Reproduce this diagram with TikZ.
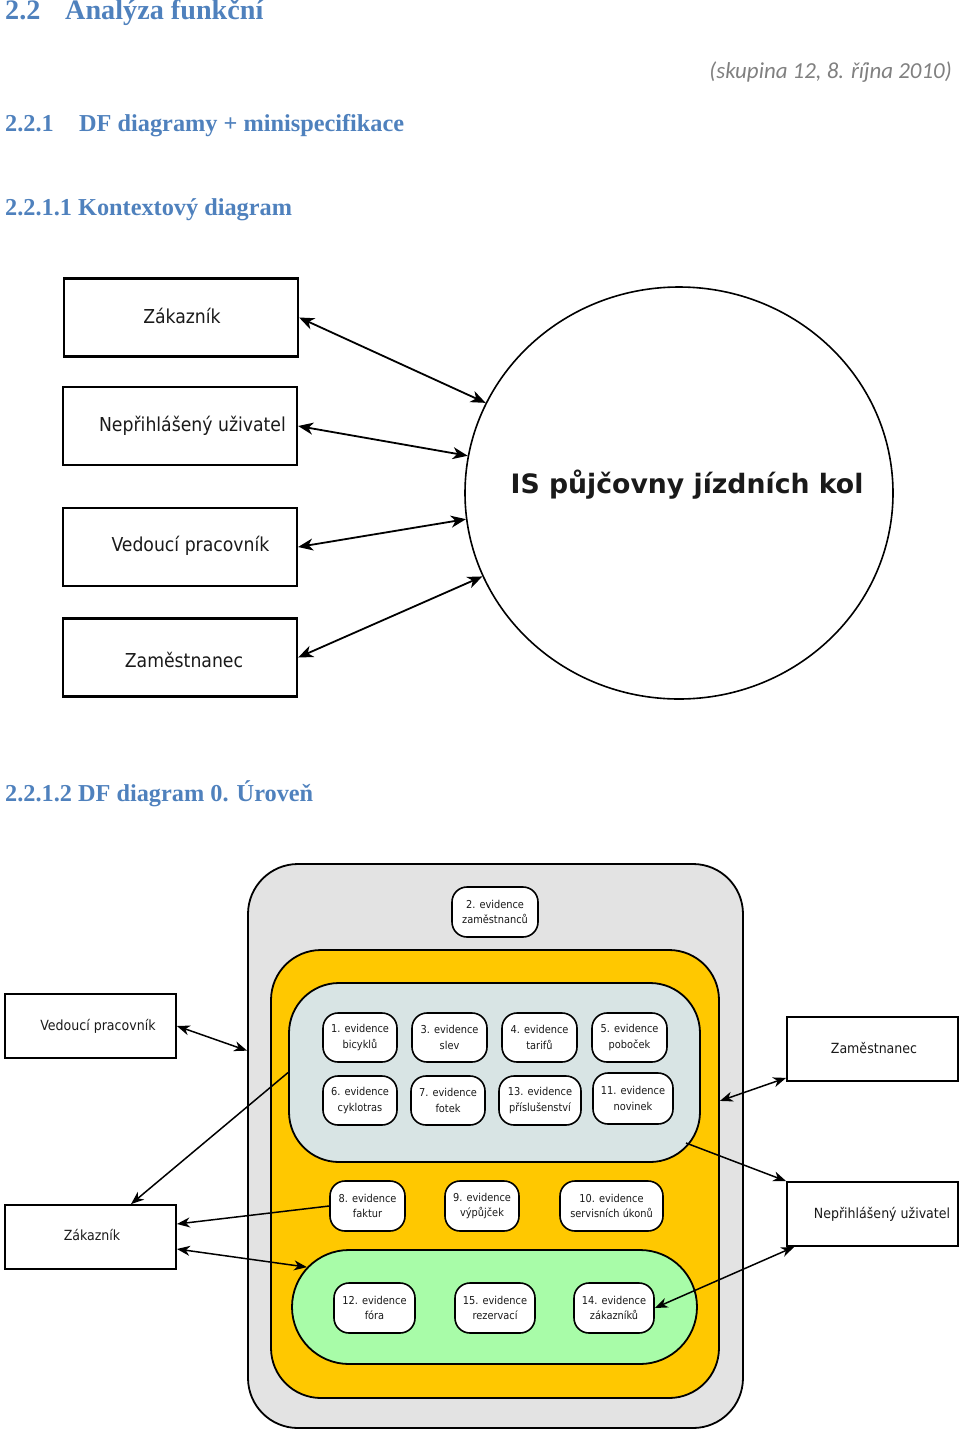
\documentclass[tikz,border=0pt]{standalone}
\usepackage{fontspec}
\setmainfont{Liberation Serif}
\newfontfamily\djb{DejaVu Sans}
\newfontfamily\djc{DejaVu Sans Condensed}
\newfontfamily\carl{Carlito}
\usetikzlibrary{arrows.meta,shapes.geometric,shapes.misc}
\definecolor{hblue}{HTML}{4F81BD}
\definecolor{dgray}{HTML}{808080}
\definecolor{txt}{HTML}{1A1A1A}
\definecolor{outergray}{HTML}{E3E3E3}
\definecolor{yell}{HTML}{FFC800}
\definecolor{lblue}{HTML}{D8E4E4}
\definecolor{lgreen}{HTML}{A8FCA8}
\begin{document}
\begin{tikzpicture}[x=1pt,y=-1pt,
  head/.style={anchor=base west, inner sep=0, text=hblue, font=\bfseries\fontsize{24.3}{26}\selectfont},
  entbox/.style={draw, line width=2.2pt, inner sep=0, minimum width=234pt, minimum height=78pt},
  entlbl/.style={inner sep=0, text=txt, font=\djc\fontsize{19.2}{22}\selectfont},
  extbox/.style={draw, line width=1.8pt, inner sep=0, minimum width=171pt, minimum height=64pt},
  extlbl/.style={inner sep=0, text=txt, font=\djc\fontsize{14}{17}\selectfont},
  proc/.style={draw, fill=white, line width=1.6pt, rounded corners=15pt, inner sep=0, align=center, text=txt, font=\djc\fontsize{10.9}{15.5}\selectfont},
  zone/.style={draw, line width=1.8pt, inner sep=0},
  toparr/.style={line width=1.8pt, >={Stealth[length=15pt,width=12pt,inset=4.5pt]}},
  botarr/.style={line width=1.5pt, >={Stealth[length=13pt,width=10pt,inset=4pt]}}
]
\useasboundingbox (0,0) rectangle (960,1430);

% headings
\node[head, font=\bfseries\fontsize{28.2}{30}\selectfont] (h1) at (5,19) {\makebox[60pt][l]{2.2}Analýza funkční};
\node[anchor=base east, inner sep=0, text=dgray, font=\carl\itshape\fontsize{22.9}{25}\selectfont] (date) at (952,78) {(skupina 12, 8. října 2010)};
\node[head] (h2) at (5,131) {\makebox[74pt][l]{2.2.1}DF diagramy + minispecifikace};
\node[head] (h3) at (5,215) {2.2.1.1 Kontextový diagram};
\node[head] (h4) at (5,801) {2.2.1.2 DF diagram 0. Úroveň};

% context diagram
\node[entbox] (zak) at (181,317.5) {};
\node[entbox] (nep) at (180,426) {};
\node[entbox] (ved) at (180,547) {};
\node[entbox] (zam) at (180,657.5) {};
\node[entlbl] (zakt) at (182,316) {Zákazník};
\node[entlbl] (nept) at (192.5,426) {Nepřihlášený uživatel};
\node[entlbl] (vedt) at (190.5,546) {Vedoucí pracovník};
\node[entlbl] (zamt) at (184,660) {Zaměstnanec};
\node[draw, ellipse, line width=1.6pt, inner sep=0, minimum width=428pt, minimum height=412pt] (is) at (679,493) {};
\node[inner sep=0, text=txt, font=\djb\bfseries\fontsize{26.7}{30}\selectfont] (ist) at (687,485) {IS půjčovny jízdních kol};

\draw[toparr,<->] (zak.east) -- (is.155.4);
\draw[toparr,<->] (nep.east) -- (is.170);
\draw[toparr,<->] (ved.east) -- (is.187.6);
\draw[toparr,<->] (zam.east) -- (is.203.9);

% level 0 diagram
\node[zone, fill=outergray, rounded corners=50pt, minimum width=495pt, minimum height=564pt] (gray) at (495.5,1146) {};
\node[zone, fill=yell, rounded corners=50pt, minimum width=448pt, minimum height=448pt] (yel) at (495,1174) {};
\node[zone, fill=lblue, rounded corners=50pt, minimum width=411pt, minimum height=179pt] (lb) at (494.5,1072.5) {};
\node[zone, fill=lgreen, rounded rectangle, minimum width=405pt, minimum height=114pt] (grn) at (494.5,1307) {};

\node[proc, minimum width=86pt, minimum height=50pt] (e2) at (495,912) {2. evidence\\zaměstnanců};
\node[proc, minimum width=74pt, minimum height=49pt] (e1) at (360,1037.5) {1. evidence\\bicyklů};
\node[proc, minimum width=75pt, minimum height=49pt] (e3) at (449.5,1037.5) {3. evidence\\slev};
\node[proc, minimum width=75pt, minimum height=49pt] (e4) at (539.5,1037.5) {4. evidence\\tarifů};
\node[proc, minimum width=75pt, minimum height=49pt] (e5) at (629.5,1037.5) {5. evidence\\poboček};
\node[proc, minimum width=74pt, minimum height=49pt] (e6) at (360,1100.5) {6. evidence\\cyklotras};
\node[proc, minimum width=74pt, minimum height=49pt] (e7) at (448,1100.5) {7. evidence\\fotek};
\node[proc, minimum width=82pt, minimum height=49pt] (e13) at (540,1100.5) {13. evidence\\příslušenství};
\node[proc, minimum width=80pt, minimum height=51pt] (e11) at (633,1098.5) {11. evidence\\novinek};
\node[proc, minimum width=75pt, minimum height=50pt] (e8) at (367.5,1206) {8. evidence\\faktur};
\node[proc, minimum width=74pt, minimum height=50pt] (e9) at (482,1206) {9. evidence\\výpůjček};
\node[proc, minimum width=103pt, minimum height=50pt] (e10) at (611.5,1206) {10. evidence\\servisních úkonů};
\node[proc, minimum width=81pt, minimum height=50pt] (e12) at (374.5,1308) {12. evidence\\fóra};
\node[proc, minimum width=80pt, minimum height=50pt] (e15) at (495,1308) {15. evidence\\rezervací};
\node[proc, minimum width=80pt, minimum height=50pt] (e14) at (614,1308) {14. evidence\\zákazníků};

\node[extbox] (vedb) at (90.5,1026) {};
\node[extbox] (zakb) at (90.5,1237) {};
\node[extbox] (zamb) at (872.5,1049) {};
\node[extbox] (nepb) at (872.5,1214) {};
\node[extlbl] (vedbt) at (98,1026) {Vedoucí pracovník};
\node[extlbl] (zakbt) at (92,1235) {Zákazník};
\node[extlbl] (zambt) at (874,1048) {Zaměstnanec};
\node[extlbl] (nepbt) at (882,1214) {Nepřihlášený uživatel};

\coordinate (lbcorner) at (686,1143);

\draw[botarr,<->] (vedb.east) -- (gray.159);
\draw[botarr,->] (lb.west) -- ([xshift=40.5pt]zakb.north);
\draw[botarr,->] (e8.west) -- ([yshift=13pt]zakb.east);
\draw[botarr,<->] ([yshift=-12pt]zakb.east) -- (grn.168);
\draw[botarr,<->] ([yshift=4pt]zamb.south west) -- (yel.18.7);
\draw[botarr,->] (lbcorner) -- (nepb.north west);
\draw[botarr,<->] ([xshift=8pt]nepb.south west) -- (e14.east);
\end{tikzpicture}
\end{document}
